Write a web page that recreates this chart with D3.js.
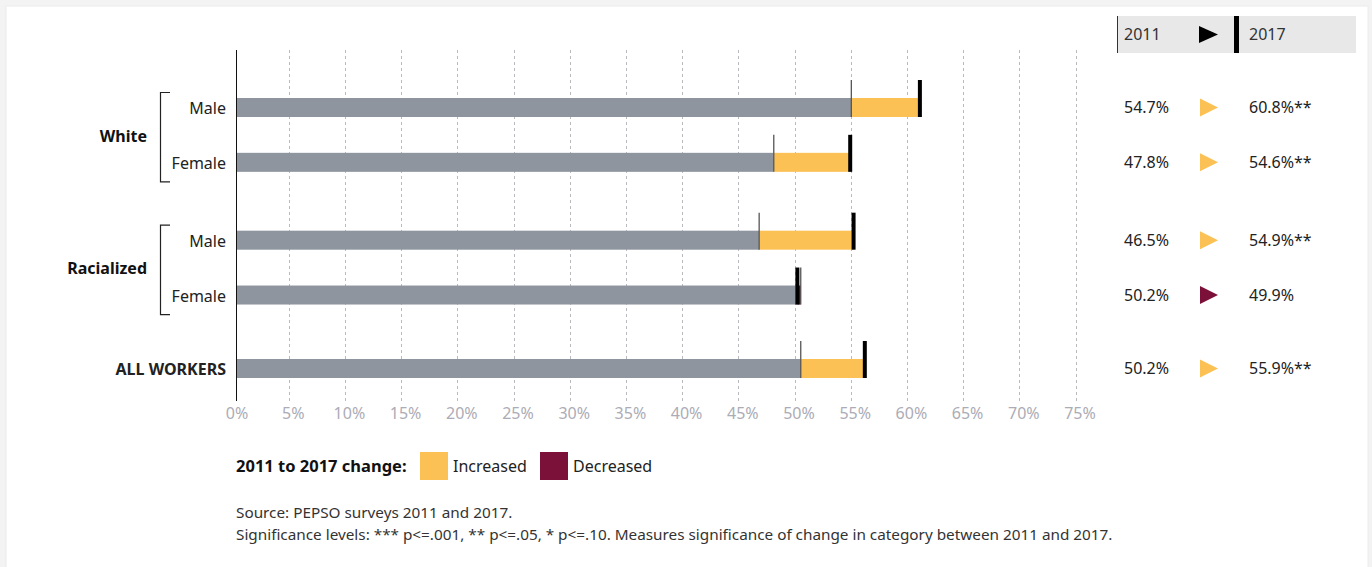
<!DOCTYPE html>
<html>
<head>
<meta charset="utf-8">
<script src="https://cdn.jsdelivr.net/npm/d3@7"></script>
<style>
  html, body { margin: 0; padding: 0; background: #f3f3f3; }
  svg { display: block; font-family: "Noto Sans", "Open Sans", sans-serif; }
</style>
</head>
<body>
<div id="chart"></div>
<script>
// chart values
var groupNames = ["White", "White", "Racialized", "Racialized", "ALL WORKERS"]
var rowLabels = ["Male", "Female", "Male", "Female", "ALL WORKERS"]
var values2011 = [54.7, 47.8, 46.5, 50.2, 50.2]
var values2017 = [60.8, 54.6, 54.9, 49.9, 55.9]
var sigMarks = ["**", "**", "**", "", "**"]
var tickValues = [0, 5, 10, 15, 20, 25, 30, 35, 40, 45, 50, 55, 60, 65, 70, 75]
var headerYears = ["2011", "2017"]
var legendLabels = ["Increased", "Decreased"]

var width = 1372, height = 567
var colGray = "#8e959e", colUp = "#fcc155", colDown = "#7b1139"

var svg = d3.select("#chart").append("svg")
  .attr("width", width).attr("height", height)

// white card with soft edge
svg.append("rect").attr("x", 6).attr("y", 6).attr("width", 1362).attr("height", 600)
  .attr("fill", "#fff").attr("stroke", "#ececec")

// extra vertical space before each group (in row units)
var groupOrder = ["White", "Racialized", "ALL WORKERS"]
var groupGap = [0, 0.42, 0.76]

var rows = values2011.map(function(v, i) {
  var g = groupOrder.indexOf(groupNames[i])
  return {i: i, group: groupNames[i], label: rowLabels[i], v11: v, v17: values2017[i], sig: sigMarks[i], slot: i + groupGap[g]}
})

var x = d3.scaleLinear().domain([0, 75]).range([236.5, 1079.5])
var y = d3.scaleLinear().domain([0, 4.76]).range([107.5, 368.5])
var barH = 19, markH = 18, gridShift = -4

// dashed gridlines
svg.append("g").selectAll("line").data(tickValues.slice(1)).enter().append("line")
  .attr("x1", function(d) { return Math.round(x(d) + gridShift) + 0.5 })
  .attr("x2", function(d) { return Math.round(x(d) + gridShift) + 0.5 })
  .attr("y1", 50).attr("y2", 401)
  .attr("stroke", "#b9b9c0").attr("stroke-dasharray", "3,3")

// axis with tick labels only
var axis = svg.append("g").attr("transform", "translate(0,401)")
  .call(d3.axisBottom(x).tickValues(tickValues).tickSize(0).tickPadding(7)
    .tickFormat(function(d) { return d + "%" }))
axis.select(".domain").remove()
axis.selectAll("text").attr("fill", "#acacb6").style("font-size", "16px").style("font-family", "Noto Sans")

// bars
var bars = svg.append("g")
bars.selectAll("rect.base").data(rows).enter().append("rect")
  .attr("x", x(0)).attr("y", function(d) { return y(d.slot) - barH / 2 })
  .attr("width", function(d) { return x(Math.min(d.v11, d.v17)) - x(0) })
  .attr("height", barH).attr("fill", colGray)
bars.selectAll("rect.change").data(rows).enter().append("rect")
  .attr("x", function(d) { return x(Math.min(d.v11, d.v17)) })
  .attr("y", function(d) { return y(d.slot) - barH / 2 })
  .attr("width", function(d) { return Math.abs(x(d.v17) - x(d.v11)) })
  .attr("height", barH).attr("fill", function(d) { return d.v17 >= d.v11 ? colUp : colDown })

// 2011 thin marker, 2017 thick marker
bars.selectAll("line.m11").data(rows).enter().append("line")
  .attr("x1", function(d) { return x(d.v11) }).attr("x2", function(d) { return x(d.v11) })
  .attr("y1", function(d) { return y(d.slot) - barH / 2 - markH })
  .attr("y2", function(d) { return y(d.slot) + barH / 2 })
  .attr("stroke", "#555").attr("stroke-width", 1.3)
bars.selectAll("line.m17").data(rows).enter().append("line")
  .attr("x1", function(d) { return x(d.v17) }).attr("x2", function(d) { return x(d.v17) })
  .attr("y1", function(d) { return y(d.slot) - barH / 2 - markH })
  .attr("y2", function(d) { return y(d.slot) + barH / 2 })
  .attr("stroke", "#000").attr("stroke-width", 4)

// y axis line
svg.append("line").attr("x1", 236.5).attr("x2", 236.5).attr("y1", 50).attr("y2", 401)
  .attr("stroke", "#111").attr("stroke-width", 1)

// row labels
svg.append("g").selectAll("text").data(rows).enter().append("text")
  .attr("x", 226).attr("y", function(d) { return y(d.slot) + 1 })
  .attr("dy", "0.35em").attr("text-anchor", "end")
  .style("font-size", "16px")
  .style("font-weight", function(d) { return d.group === d.label ? "bold" : "normal" })
  .attr("fill", "#222")
  .text(function(d) { return d.label })

// group labels with brackets
var groupList = d3.groups(rows.filter(function(d) { return d.group !== d.label }), function(d) { return d.group })
var gsel = svg.append("g").selectAll("g").data(groupList).enter().append("g")
gsel.append("path")
  .attr("d", function(d) {
    var top = y(d[1][0].slot) - 15, bot = y(d[1][d[1].length - 1].slot) + 19.5
    return "M170," + top + "H160.5V" + bot + "H170"
  })
  .attr("fill", "none").attr("stroke", "#222").attr("stroke-width", 1.2)
gsel.append("text")
  .attr("x", 147).attr("y", function(d) { return (y(d[1][0].slot) + y(d[1][d[1].length - 1].slot)) / 2 + 1 })
  .attr("dy", "0.35em").attr("text-anchor", "end")
  .style("font-size", "16px").style("font-weight", "bold").attr("fill", "#111")
  .text(function(d) { return d[0] })

// right-hand value table
var hdr = svg.append("g")
hdr.append("rect").attr("x", 1117).attr("y", 16).attr("width", 239).attr("height", 37).attr("fill", "#e8e8e8")
hdr.append("line").attr("x1", 1117.5).attr("x2", 1117.5).attr("y1", 16).attr("y2", 53).attr("stroke", "#333")
hdr.append("rect").attr("x", 1234).attr("y", 16).attr("width", 5).attr("height", 37).attr("fill", "#000")
hdr.append("path").attr("d", "M1199,26L1218,34.5L1199,43Z").attr("fill", "#000")
hdr.selectAll("text").data(headerYears).enter().append("text")
  .attr("x", function(d, i) { return i === 0 ? 1124 : 1249 }).attr("y", 34.5).attr("dy", "0.35em")
  .style("font-size", "16px").attr("fill", "#333").text(function(d) { return d })

var tbl = svg.append("g").selectAll("g").data(rows).enter().append("g")
  .attr("transform", function(d) { return "translate(0," + y(d.slot) + ")" })
tbl.append("text").attr("x", 1124).attr("dy", "0.35em").style("font-size", "16px").attr("fill", "#222")
  .text(function(d) { return d.v11.toFixed(1) + "%" })
tbl.append("path").attr("d", "M1200,-9L1218,0L1200,9Z")
  .attr("fill", function(d) { return d.v17 >= d.v11 ? colUp : colDown })
tbl.append("text").attr("x", 1249).attr("dy", "0.35em").style("font-size", "16px").attr("fill", "#222")
  .text(function(d) { return d.v17.toFixed(1) + "%" + d.sig })

// legend
var leg = svg.append("g").attr("transform", "translate(0,466)")
leg.append("text").attr("x", 236).attr("dy", "0.35em").style("font-size", "16.5px").style("font-weight", "bold")
  .attr("fill", "#111").text("2011 to 2017 change:")
var legItems = leg.selectAll("g.item").data(legendLabels).enter().append("g")
  .attr("transform", function(d, i) { return "translate(" + (i === 0 ? 420 : 540) + ",0)" })
legItems.append("rect").attr("y", -14).attr("width", 28).attr("height", 28)
  .attr("fill", function(d, i) { return i === 0 ? colUp : colDown })
legItems.append("text").attr("x", 33).attr("dy", "0.35em").style("font-size", "16px").attr("fill", "#222")
  .text(function(d) { return d })

// notes
var notes = ["Source: PEPSO surveys 2011 and 2017.",
  "Significance levels: *** p<=.001, ** p<=.05, * p<=.10. Measures significance of change in category between 2011 and 2017."]
svg.append("g").selectAll("text").data(notes).enter().append("text")
  .attr("x", 236).attr("y", function(d, i) { return 513 + i * 22 }).attr("dy", "0.35em")
  .style("font-size", "15.3px").attr("fill", "#333").text(function(d) { return d })
</script>
</body>
</html>
